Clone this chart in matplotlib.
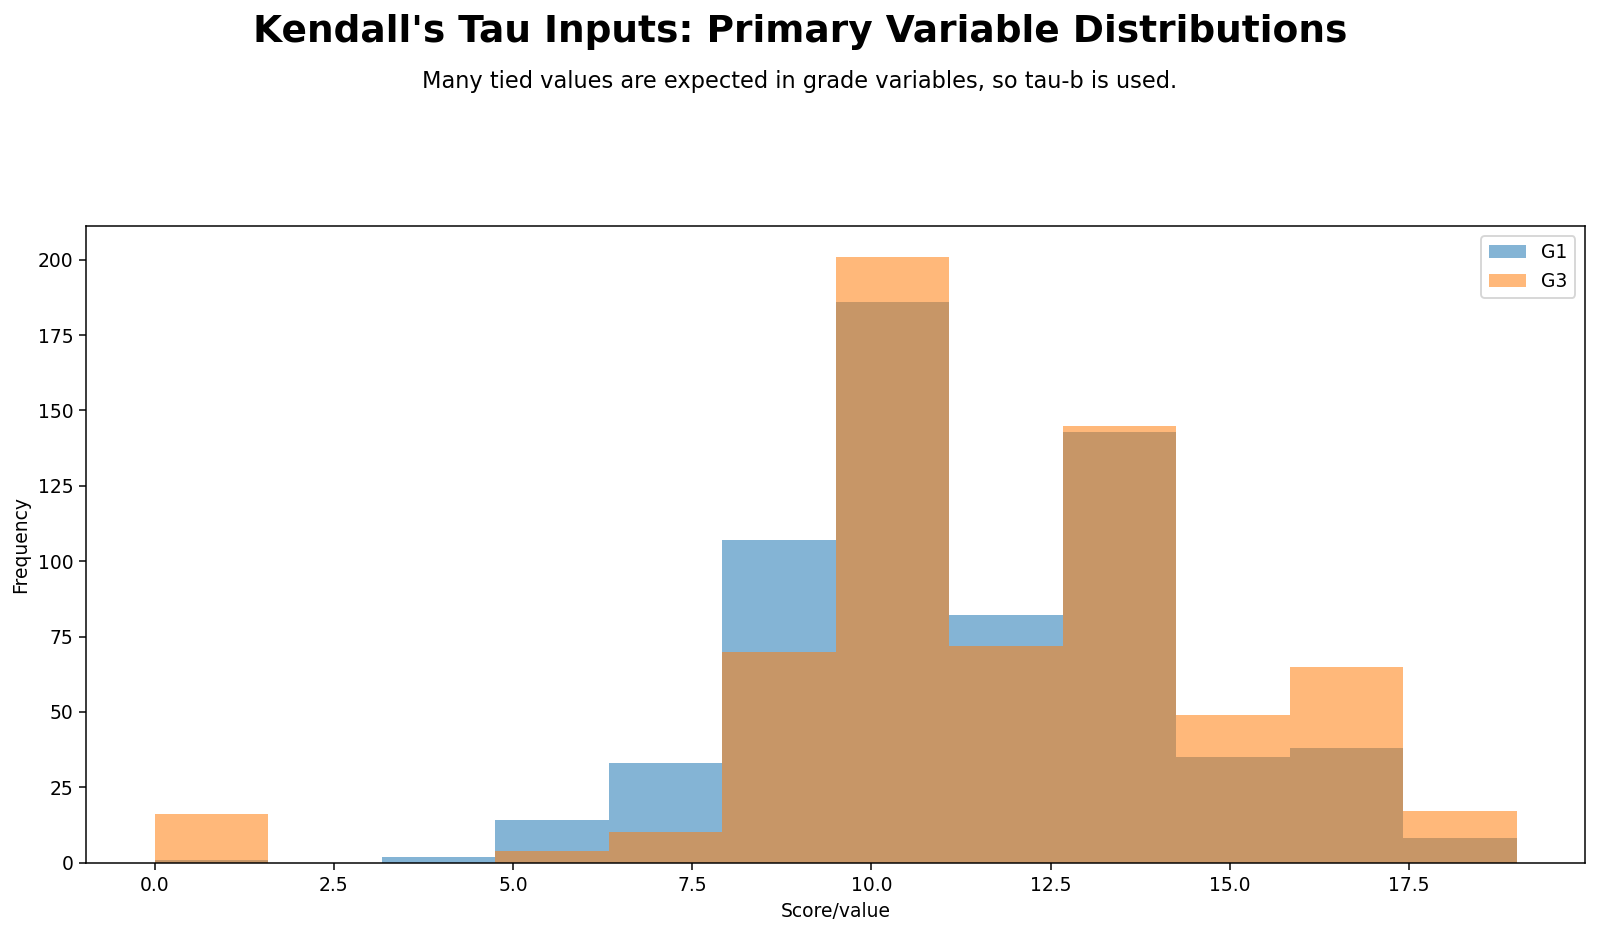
import numpy as np
import matplotlib.pyplot as plt

# histogram bin edges (12 bins over 0..19) and counts
bin_edges = np.linspace(0, 19, 13)
g1_counts = [1, 0, 2, 14, 33, 107, 186, 82, 143, 35, 38, 8]
g3_counts = [16, 0, 0, 4, 10, 70, 201, 72, 145, 49, 65, 17]
series_labels = ['G1', 'G3']

bin_centers = (bin_edges[:-1] + bin_edges[1:]) / 2

fig = plt.figure(figsize=(1600 / 135, 932 / 135), dpi=135)
ax = fig.add_axes([0.054, 0.0745, 0.9364, 0.6825])

ax.hist(bin_centers, bins=bin_edges, weights=g1_counts, alpha=0.55,
        color='#1f77b4', label=series_labels[0])
ax.hist(bin_centers, bins=bin_edges, weights=g3_counts, alpha=0.55,
        color='#ff7f0e', label=series_labels[1])

ax.set_xlabel('Score/value')
ax.set_ylabel('Frequency')
ax.legend(loc='upper right')

fig.text(0.5, 0.966, "Kendall's Tau Inputs: Primary Variable Distributions",
         ha='center', va='center', fontsize=20, fontweight='bold')
fig.text(0.5, 0.913, 'Many tied values are expected in grade variables, so tau-b is used.',
         ha='center', va='center', fontsize=12)

fig.savefig('out.png', dpi=135)
